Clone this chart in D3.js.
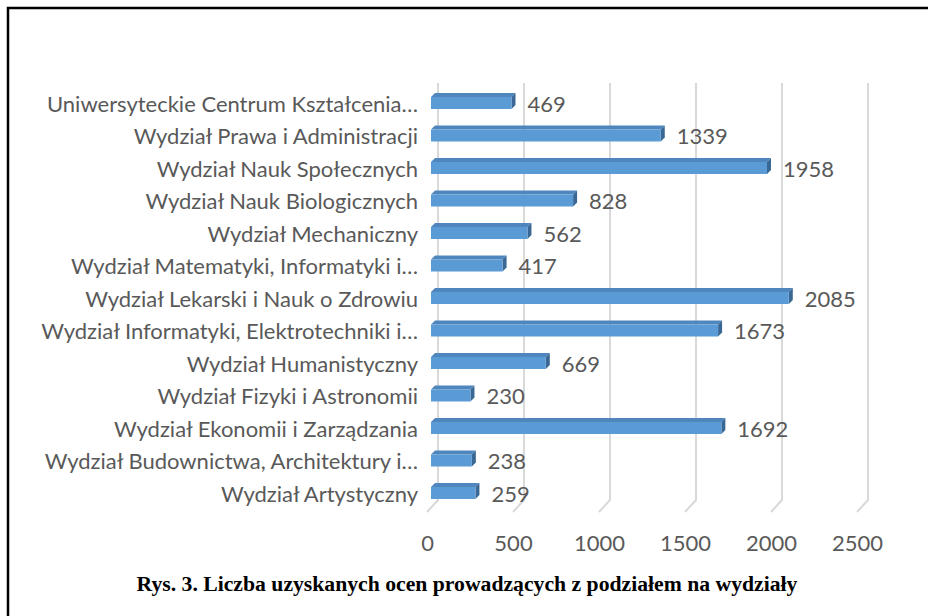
<!DOCTYPE html>
<html><head><meta charset="utf-8">
<script src="https://cdn.jsdelivr.net/npm/d3@7"></script>
<style>body{margin:0;background:#fff}svg{display:block}</style>
</head><body><svg id="c" width="928" height="616"></svg>
<script>
// categories listed top to bottom as drawn
const categories = [
  "Uniwersyteckie Centrum Kształcenia…",
  "Wydział Prawa i Administracji",
  "Wydział Nauk Społecznych",
  "Wydział Nauk Biologicznych",
  "Wydział Mechaniczny",
  "Wydział Matematyki, Informatyki i…",
  "Wydział Lekarski i Nauk o Zdrowiu",
  "Wydział Informatyki, Elektrotechniki i…",
  "Wydział Humanistyczny",
  "Wydział Fizyki i Astronomii",
  "Wydział Ekonomii i Zarządzania",
  "Wydział Budownictwa, Architektury i…",
  "Wydział Artystyczny"
];
const values = [469, 1339, 1958, 828, 562, 417, 2085, 1673, 669, 230, 1692, 238, 259];
const tickValues = [0, 500, 1000, 1500, 2000, 2500];
const caption = "Rys. 3. Liczba uzyskanych ocen prowadzących z podziałem na wydziały";

const svg = d3.select("#c");
const txt = "#595959";
const font = "Lato, 'Open Sans', sans-serif";
const fs = 22;

// outer frame (cropped on right/bottom)
svg.append("rect").attr("x", 8).attr("y", 8).attr("width", 960).attr("height", 660)
  .attr("fill", "none").attr("stroke", "#000").attr("stroke-width", 2.5);

const xFront = d3.scaleLinear().domain([0, 2500]).range([427, 857]);
const xBack = d3.scaleLinear().domain([0, 2500]).range([438, 868]);
const xBar = d3.scaleLinear().domain([0, 2500]).range([431, 860]);
const y = d3.scalePoint().domain(categories).range([103, 493]);

// gridlines (3D wall + floor)
const wallTop = 83, wallBottom = 500, floorFront = 512;
svg.append("g").selectAll("path").data(tickValues).join("path")
  .attr("d", d => `M${xBack(d)},${wallTop}V${wallBottom}L${xFront(d)},${floorFront}`)
  .attr("fill", "none").attr("stroke", "#d9d9d9").attr("stroke-width", 2);

// x axis labels
const xAxis = d3.axisBottom(xFront).tickValues(tickValues).tickSize(0).tickPadding(0).tickFormat(d3.format("d"));
const gx = svg.append("g").attr("transform", "translate(0,535)").call(xAxis);
gx.select(".domain").remove();
gx.selectAll("text").attr("fill", txt).attr("font-family", font).attr("font-size", fs);

// bars
const h = 12, dep = 4;
const g = svg.append("g");
categories.forEach((c, i) => {
  const v = values[i];
  const x0 = xBar(0), x1 = xBar(v), yc = y(c), yt = yc - h / 2;
  // top face
  g.append("path").attr("d", `M${x0},${yt}L${x0 + dep},${yt - dep}L${x1 + dep},${yt - dep}L${x1},${yt}Z`)
    .attr("fill", "#4f86bd");
  // side face
  g.append("path").attr("d", `M${x1},${yt}L${x1 + dep},${yt - dep}L${x1 + dep},${yt + h - dep}L${x1},${yt + h}Z`)
    .attr("fill", "#3a6894");
  // front face
  g.append("rect").attr("x", x0).attr("y", yt).attr("width", x1 - x0).attr("height", h)
    .attr("fill", "#5b9bd5");
  // value label
  g.append("text").attr("x", x1 + dep + 12).attr("y", yc + 1).attr("dy", "0.35em")
    .attr("fill", txt).attr("font-family", font).attr("font-size", fs).text(v);
});

// category labels
const yAxis = d3.axisLeft(y).tickSize(0).tickPadding(0);
const gy = svg.append("g").attr("transform", "translate(418,1)").call(yAxis);
gy.select(".domain").remove();
gy.selectAll("text").attr("fill", txt).attr("font-family", font).attr("font-size", fs);

// caption
svg.append("text").attr("x", 467).attr("y", 591).attr("text-anchor", "middle")
  .attr("font-family", "'Liberation Serif', 'Times New Roman', serif").attr("font-weight", "bold")
  .attr("font-size", 21.7).attr("fill", "#000").text(caption);
</script></body></html>
